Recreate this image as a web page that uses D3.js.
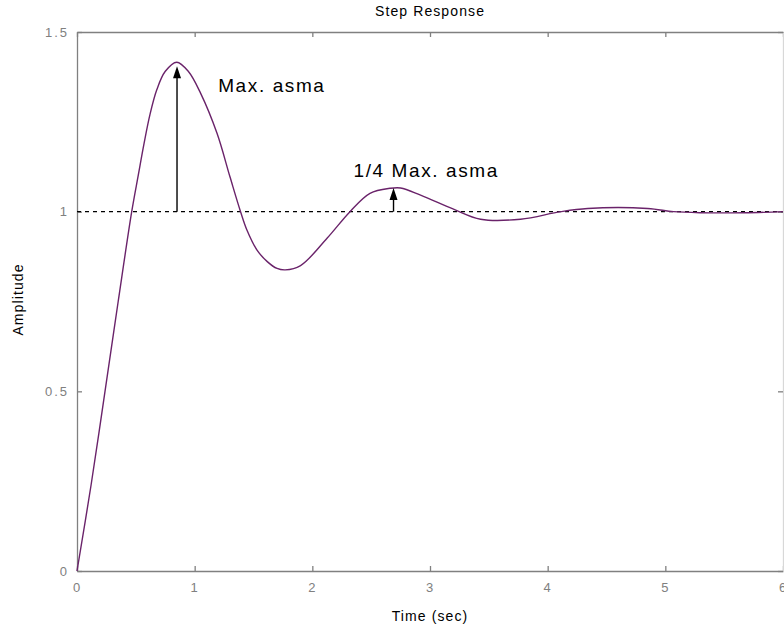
<!DOCTYPE html>
<html>
<head>
<meta charset="utf-8">
<script src="https://cdn.jsdelivr.net/npm/d3@7"></script>
<style>
    body { margin: 0; background: #fff; }
    #chart-area { width: 784px; height: 636px; }
    text { font-family: "Liberation Sans", Arial, sans-serif; }
</style>
</head>
<body>
<div id="chart-area"></div>
<script>
// step response
let timeSec = [0, 0.12, 0.238, 0.35, 0.465, 0.52, 0.57, 0.62, 0.678, 0.749, 0.848, 0.947, 1.05,
    1.19, 1.30, 1.39, 1.444, 1.53, 1.617, 1.70, 1.77, 1.90, 2.125, 2.32, 2.49, 2.66, 2.75, 2.92, 3.20, 3.43, 3.77,
    4.11, 4.34, 4.85, 5.07, 5.30, 5.67, 6.0];
let amplitude = [0, 0.24, 0.5, 0.75, 1.0, 1.1, 1.19, 1.27, 1.339, 1.39, 1.416, 1.39, 1.33,
    1.218, 1.097, 1.0, 0.949, 0.893, 0.861, 0.842, 0.838, 0.85, 0.926, 1.0, 1.051, 1.065, 1.066, 1.046, 1.007, 0.979, 0.979,
    1.0, 1.009, 1.009, 1.0, 0.997, 0.997, 1.0];

let xTicks = [0, 1, 2, 3, 4, 5, 6];
let yTicks = [0, 0.5, 1, 1.5];
let steadyState = 1;

// annotation arrows: time, top value
let arrowTimes = [0.85, 2.69];
let arrowTops = [1.405, 1.066];
let noteLabels = ["Max. asma", "1/4 Max. asma"];
let noteTimes = [1.2, 2.35];
let noteValues = [1.333, 1.096];

class StepVis {
    constructor(parentElement) {
        this.parentElement = parentElement;
        this.displayData = timeSec.map((t, i) => ({t: t, v: amplitude[i]}));
        this.initVis();
    }

    initVis() {
        let vis = this;
        vis.margin = {top: 32, right: 1, bottom: 65, left: 77};
        vis.width = 784 - vis.margin.left - vis.margin.right;
        vis.height = 636 - vis.margin.top - vis.margin.bottom;

        vis.svg = d3.select("#" + vis.parentElement).append("svg")
            .attr("width", 784)
            .attr("height", 636)
            .append("g")
            .attr("transform", `translate(${vis.margin.left}, ${vis.margin.top})`);

        vis.x = d3.scaleLinear().domain([0, 6]).range([0, vis.width]);
        vis.y = d3.scaleLinear().domain([0, 1.5]).range([vis.height, 0]);

        let grey = "#808080";

        // axes with inside ticks, mirrored on top and right
        vis.svg.append("g")
            .attr("class", "x-axis")
            .attr("transform", "translate(0," + vis.height + ")")
            .call(d3.axisBottom(vis.x).tickValues(xTicks).tickSizeInner(-5).tickSizeOuter(0).tickPadding(12).tickFormat(d3.format("")));
        vis.svg.append("g")
            .attr("class", "x-axis-top")
            .call(d3.axisTop(vis.x).tickValues(xTicks).tickSizeInner(-5).tickSizeOuter(0).tickFormat(""));
        vis.svg.append("g")
            .attr("class", "y-axis")
            .call(d3.axisLeft(vis.y).tickValues(yTicks).tickSizeInner(-5).tickSizeOuter(0).tickPadding(8).tickFormat(d3.format("")));
        vis.svg.append("g")
            .attr("class", "y-axis-right")
            .attr("transform", "translate(" + vis.width + ",0)")
            .call(d3.axisRight(vis.y).tickValues(yTicks).tickSizeInner(-5).tickSizeOuter(0).tickFormat(""));

        vis.svg.selectAll(".domain, .tick line").attr("stroke", grey).attr("stroke-width", 1.3);
        vis.svg.select(".y-axis-right .domain").attr("stroke", "#d8d8d8");
        vis.svg.selectAll(".tick text")
            .attr("fill", grey)
            .style("font-size", "13px")
            .style("letter-spacing", "2px");

        // dashed steady state line
        vis.svg.append("line")
            .attr("x1", vis.x(0))
            .attr("x2", vis.x(6))
            .attr("y1", vis.y(steadyState))
            .attr("y2", vis.y(steadyState))
            .attr("stroke", "#000")
            .attr("stroke-width", 1.2)
            .attr("stroke-dasharray", "4,4");

        // response curve
        let line = d3.line()
            .x(d => vis.x(d.t))
            .y(d => vis.y(d.v))
            .curve(d3.curveCatmullRom.alpha(0.5));
        vis.svg.append("path")
            .datum(vis.displayData)
            .attr("fill", "none")
            .attr("stroke", "#6a236a")
            .attr("stroke-width", 1.4)
            .attr("d", line);

        // arrows
        arrowTimes.forEach((t, i) => {
            let ax = vis.x(t), y0 = vis.y(steadyState), y1 = vis.y(arrowTops[i]);
            vis.svg.append("line")
                .attr("x1", ax).attr("x2", ax)
                .attr("y1", y0).attr("y2", y1 + 8)
                .attr("stroke", "#000")
                .attr("stroke-width", 1.4);
            vis.svg.append("path")
                .attr("d", `M${ax},${y1} L${ax - 4},${y1 + 12} L${ax + 4},${y1 + 12} Z`)
                .attr("fill", "#000");
        });

        vis.svg.selectAll("text.note")
            .data(noteLabels)
            .enter().append("text")
            .attr("class", "note")
            .attr("x", (d, i) => vis.x(noteTimes[i]))
            .attr("y", (d, i) => vis.y(noteValues[i]))
            .style("font-size", "19px")
            .style("letter-spacing", "1.6px")
            .attr("fill", "#000")
            .text(d => d);

        // titles
        let labelStyle = sel => sel
            .style("text-anchor", "middle")
            .style("font-size", "14px")
            .style("letter-spacing", "1.1px");

        vis.svg.append("text")
            .attr("x", vis.width / 2)
            .attr("y", -16)
            .call(labelStyle)
            .text("Step Response");

        vis.svg.append("text")
            .attr("x", vis.width / 2)
            .attr("y", vis.height + 50)
            .call(labelStyle)
            .text("Time (sec)");

        vis.svg.append("text")
            .attr("transform", "rotate(-90)")
            .attr("x", -(vis.height / 2) + 2)
            .attr("y", -54)
            .call(labelStyle)
            .text("Amplitude");
    }
}

new StepVis("chart-area");
</script>
</body>
</html>
